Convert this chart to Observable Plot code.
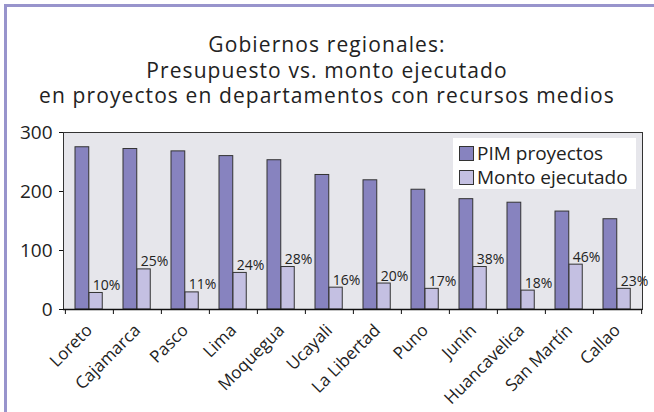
<!DOCTYPE html>
<html>
<head>
<meta charset="utf-8">
<script src="https://cdn.jsdelivr.net/npm/d3@7"></script>
<script src="https://cdn.jsdelivr.net/npm/@observablehq/plot@0.6"></script>
<style>
  body { margin: 0; background: #fff; }
  #wrap { position: relative; width: 654px; height: 412px; overflow: hidden; background: #fff; font-family: "Open Sans", sans-serif; color: #222; }
  #border { position: absolute; left: 4px; top: 4px; width: 660px; height: 420px; border-left: 3px solid #9894cc; border-top: 3px solid #9894cc; }
  #title { position: absolute; top: 32px; left: 0; width: 654px; text-align: center; font-size: 21px; letter-spacing: 1.1px; }
  #title div { height: 25.5px; line-height: 25.5px; overflow: visible; }
  #chart { position: absolute; top: 105px; left: 0; }
  #legend { position: absolute; left: 453px; top: 138px; width: 183px; height: 51px; background: #fff; font-size: 19px; }
  .row { position: absolute; left: 6px; display: flex; align-items: center; height: 24px; white-space: nowrap; }
  .sw { width: 13px; height: 13px; border: 1px solid #333; margin-right: 3px; }
</style>
</head>
<body>
<div id="wrap">
  <div id="border"></div>
  <div id="title"></div>
  <div id="chart"></div>
  <div id="legend">
    <div class="row" style="top:3px"><div class="sw" id="sw1"></div><span id="lg1"></span></div>
    <div class="row" style="top:27px"><div class="sw" id="sw2"></div><span id="lg2"></span></div>
  </div>
</div>
<script>
const titleLines = ["Gobiernos regionales:", "Presupuesto vs. monto ejecutado", "en proyectos en departamentos con recursos medios"];
const categories = ["Loreto", "Cajamarca", "Pasco", "Lima", "Moquegua", "Ucayali", "La Libertad", "Puno", "Junín", "Huancavelica", "San Martín", "Callao"];
const pim = [275, 272, 268, 260, 253, 228, 219, 203, 187, 181, 166, 153];
const monto = [28, 68, 29, 62, 72, 37, 44, 35, 72, 32, 76, 35];
const pctLabels = ["10%", "25%", "11%", "24%", "28%", "16%", "20%", "17%", "38%", "18%", "46%", "23%"];
const seriesNames = ["PIM proyectos", "Monto ejecutado"];
const yTicks = [0, 100, 200, 300];

const colors = ["#8783bf", "#c4c0e2"];
const W = 654, H = 307, mL = 63, mR = 12, mT = 27, mB = 103;
const bw = (W - mL - mR) / categories.length;

const titleEl = document.getElementById("title");
for (const t of titleLines) {
  const d = document.createElement("div");
  d.textContent = t;
  titleEl.appendChild(d);
}

const rows = categories.map((c, i) => ({cat: c, pim: pim[i], monto: monto[i], pct: pctLabels[i]}));

const chart = Plot.plot({
  width: W, height: H,
  marginLeft: mL, marginRight: mR, marginTop: mT, marginBottom: mB,
  style: {fontFamily: "'Open Sans', sans-serif", color: "#222", background: "transparent"},
  x: {domain: categories, padding: 0, label: null},
  y: {domain: [0, 300], label: null},
  marks: [
    Plot.frame({fill: "#e6e6eb", stroke: null}),
    Plot.barY(rows, {x: "cat", y: "pim", fill: colors[0], stroke: "#333", strokeWidth: 1, insetLeft: 10, insetRight: bw - 24}),
    Plot.barY(rows, {x: "cat", y: "monto", fill: colors[1], stroke: "#333", strokeWidth: 1, insetLeft: 24, insetRight: bw - 37.5}),
    Plot.text(rows, {x: "cat", y: "monto", text: "pct", dx: 17, dy: -3, lineAnchor: "bottom", fontSize: 14, fill: "#222"}),
    Plot.frame({stroke: "#333", strokeWidth: 1}),
    Plot.ruleY([0], {stroke: "#111", strokeWidth: 1.3}),
    Plot.ruleX(categories, {x: d => d, dx: -bw / 2, y1: 0, y2: 0, insetBottom: -5, stroke: "#111"}),
    Plot.ruleX([categories[categories.length - 1]], {x: d => d, dx: bw / 2, y1: 0, y2: 0, insetBottom: -5, stroke: "#111"}),
    Plot.axisY({ticks: yTicks, tickSize: 4, tickPadding: 7, fontSize: 19, label: null, stroke: "#111"}),
    Plot.axisX({tickSize: 0, tickRotate: -45, tickPadding: 18, fontSize: 17, label: null})
  ]
});
document.getElementById("chart").appendChild(chart);

document.getElementById("sw1").style.background = colors[0];
document.getElementById("sw2").style.background = colors[1];
document.getElementById("lg1").textContent = seriesNames[0];
document.getElementById("lg2").textContent = seriesNames[1];
</script>
</body>
</html>
